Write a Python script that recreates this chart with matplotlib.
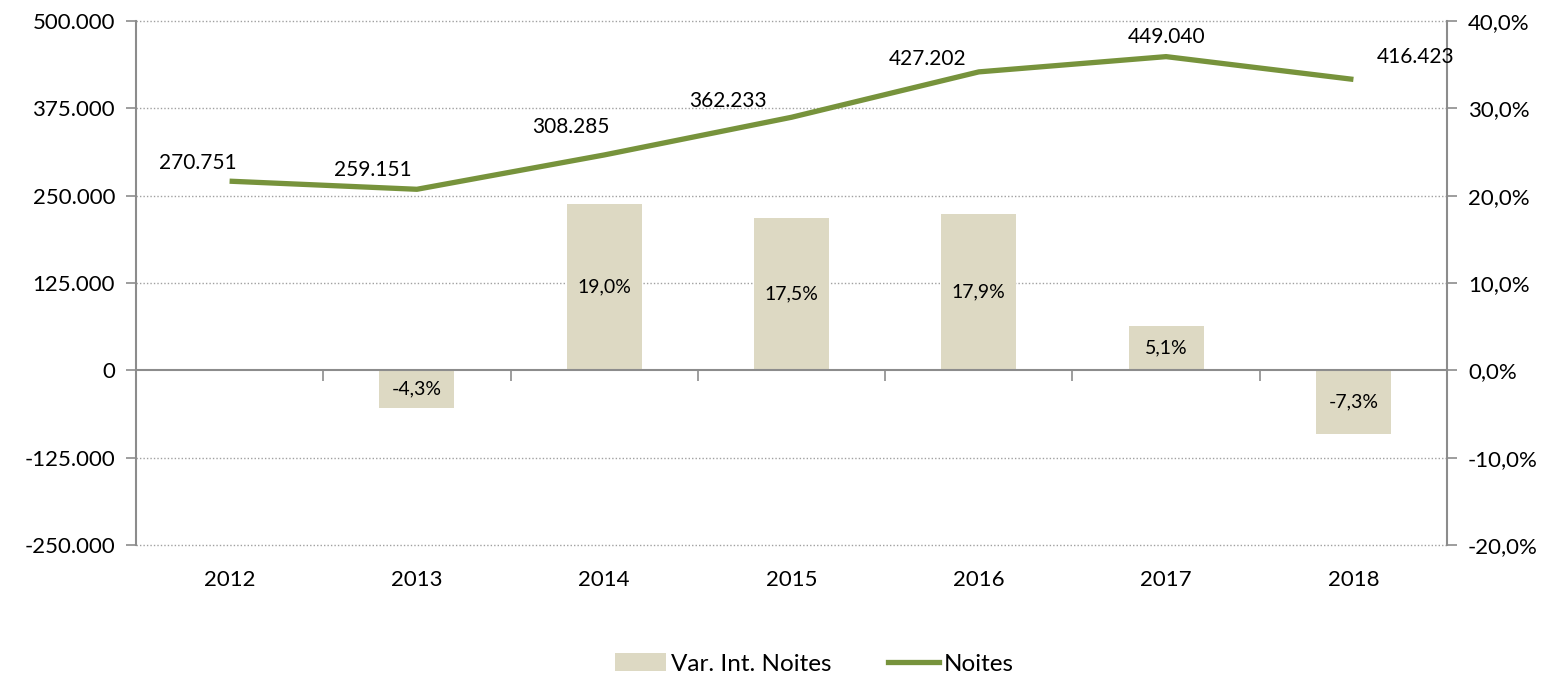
import matplotlib
matplotlib.use("Agg")
import matplotlib.pyplot as plt
import matplotlib.ticker as mticker
from matplotlib.patches import Patch
from matplotlib.lines import Line2D
import numpy as np

plt.rcParams['font.family'] = ['Lato', 'DejaVu Sans']

years = ["2012", "2013", "2014", "2015", "2016", "2017", "2018"]
noites = [270751, 259151, 308285, 362233, 427202, 449040, 416423]
var_pct = [np.nan, -4.3, 19.0, 17.5, 17.9, 5.1, -7.3]
# label offsets (points) for line labels
lbl_dx = [-23, -32, -24, -46, -37, 0, 45]
lbl_dy = [13, 14, 20, 12, 9, 14, 16]

bar_color = "#DDD9C3"
line_color = "#77933C"
axis_color = "#8C8C8C"

def fmt_thousands(v, pos=None):
    s = f"{abs(int(round(v))):,}".replace(",", ".")
    return ("-" if v < 0 else "") + s

def fmt_pct(v, pos=None):
    return f"{v:.1f}%".replace(".", ",")

fig = plt.figure(figsize=(15.57, 6.76), dpi=100)
ax = fig.add_axes([0.0873, 0.1938, 0.8421, 0.7751])
ax2 = ax.twinx()
x = np.arange(len(years))

# bars (percent) on primary axis, shown on right
ax.bar(x, var_pct, width=0.4, color=bar_color, zorder=2)
ax.set_ylim(-20, 40)
ax.set_xlim(-0.5, len(years) - 0.5)
ax.yaxis.set_major_locator(mticker.MultipleLocator(10))
ax.yaxis.set_major_formatter(mticker.FuncFormatter(fmt_pct))
for i, v in enumerate(var_pct):
    if not np.isnan(v):
        ax.text(i, v / 2, fmt_pct(v), ha='center', va='center', fontsize=14, zorder=3)

# grid lines (dotted)
for g in [-20, -10, 10, 20, 30, 40]:
    ax.axhline(g, color="#A0A0A0", lw=1.0, ls=(0, (1, 1.5)), zorder=1, clip_on=False)

ax.spines['top'].set_visible(False)
for s in ['left', 'right']:
    ax.spines[s].set_color(axis_color)
    ax.spines[s].set_linewidth(1.5)
ax.spines['bottom'].set_position(('data', 0))
ax.spines['bottom'].set_color(axis_color)
ax.spines['bottom'].set_linewidth(1.5)
ax.set_xticks(np.arange(-0.5, len(years) + 0.5, 1.0))
ax.set_xticklabels([])
ax.tick_params(axis='x', direction='out', length=8, width=1.2, color=axis_color)

sec = ax.secondary_xaxis('bottom')
sec.set_xticks(x)
sec.set_xticklabels(years)
sec.spines['bottom'].set_visible(False)
sec.tick_params(axis='x', length=0, labelsize=16, pad=18)

# line on twin axis, shown on left
ax2.plot(x, noites, color=line_color, lw=3.8, solid_capstyle='butt', zorder=4)
ax2.set_ylim(-250000, 500000)
ax2.yaxis.set_major_locator(mticker.MultipleLocator(125000))
ax2.yaxis.set_major_formatter(mticker.FuncFormatter(fmt_thousands))
for s in ['top', 'bottom', 'left', 'right']:
    ax2.spines[s].set_visible(False)
for i, v in enumerate(noites):
    ax2.annotate(fmt_thousands(v), (i, v), xytext=(lbl_dx[i], lbl_dy[i]),
                 textcoords='offset points', ha='center', va='center', fontsize=15)

# axis sides: percentages right, values left
ax.yaxis.set_ticks_position('right')
ax.yaxis.set_label_position('right')
ax.tick_params(axis='y', which='both', left=False, labelleft=False, right=True, labelright=True,
               direction='out', length=7, width=1.2, color=axis_color, labelsize=16, pad=8)
ax2.yaxis.set_ticks_position('left')
ax2.yaxis.set_label_position('left')
ax2.tick_params(axis='y', which='both', right=False, labelright=False, left=True, labelleft=True,
                direction='out', length=7, width=1.2, color=axis_color, labelsize=16, pad=8)

handles = [Patch(facecolor=bar_color, edgecolor='none', label='Var. Int. Noites'),
           Line2D([0], [0], color=line_color, lw=3.8, label='Noites')]
fig.legend(handles=handles, loc='center', bbox_to_anchor=(0.523, 0.018), ncol=2,
           frameon=False, fontsize=17.5, handlelength=2.1, handleheight=0.75,
           handletextpad=0.2, columnspacing=2.3)

fig.savefig("out.png", dpi=100)
